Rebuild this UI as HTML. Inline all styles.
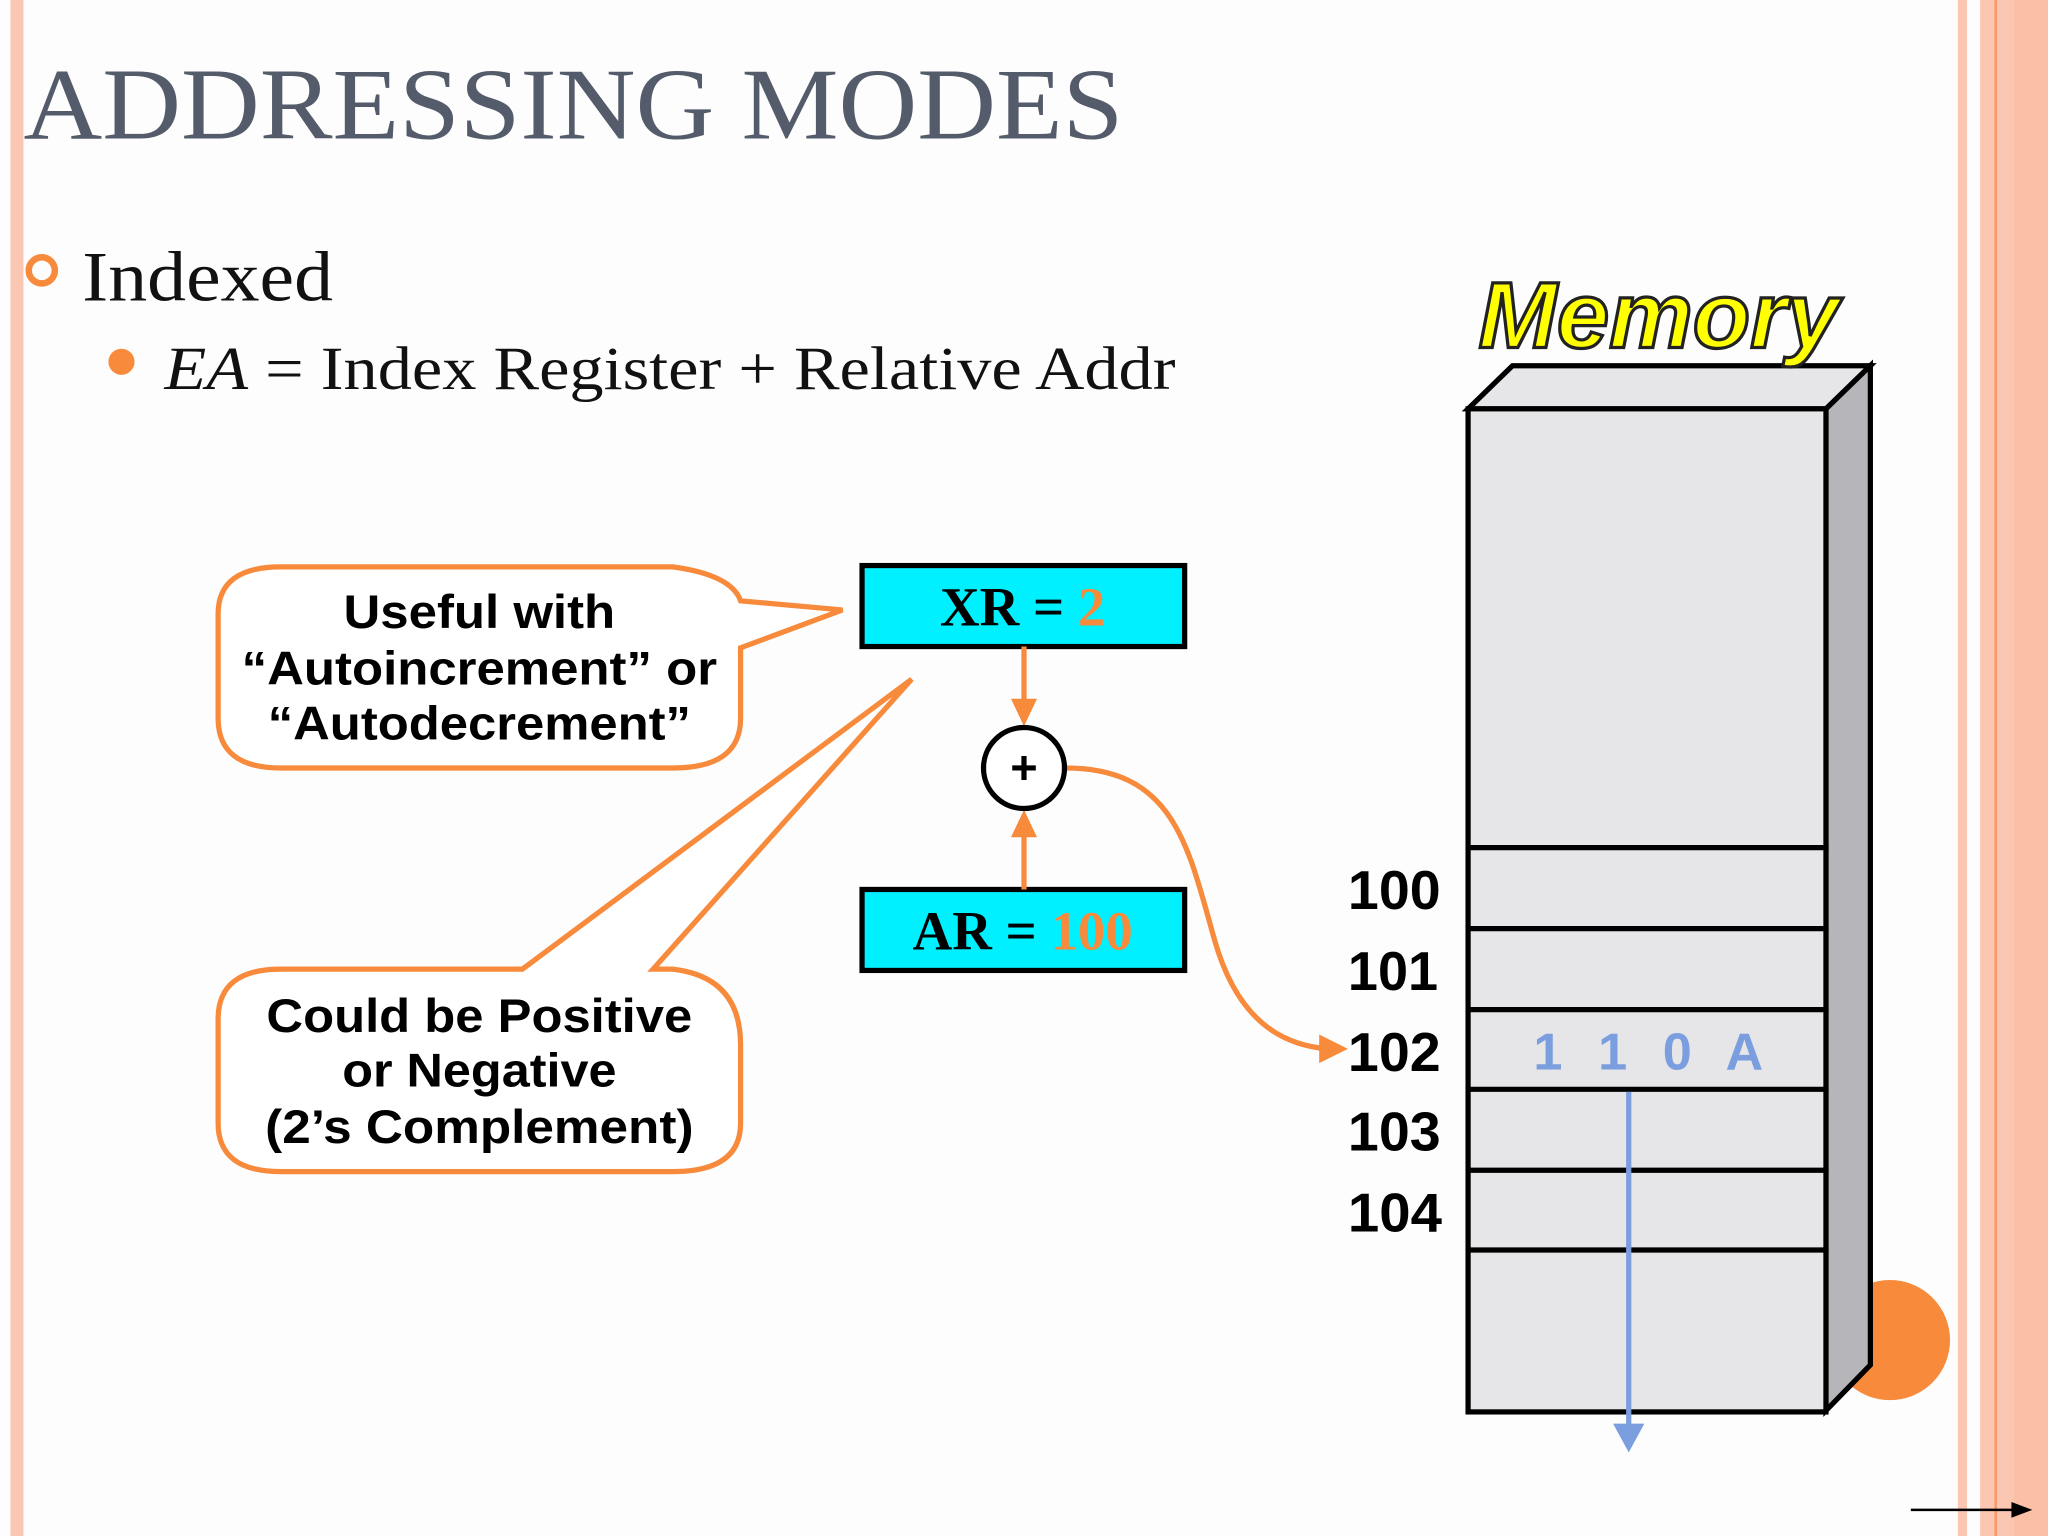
<!DOCTYPE html>
<html><head><meta charset="utf-8"><style>html,body{margin:0;padding:0;background:#fdfdfd}svg{display:block}</style></head>
<body>
<svg width="2048" height="1536" viewBox="0 0 1568 1176" xmlns="http://www.w3.org/2000/svg">
<rect width="1568" height="1176" fill="#fdfdfd"/>
<rect x="8" y="0" width="10" height="1176" fill="#fcc7b2"/>
<rect x="1499" y="0" width="7" height="1176" fill="#fcc7b2"/>
<rect x="1516" y="0" width="52" height="1176" fill="#fcc7b2"/>
<rect x="1527" y="0" width="2" height="1176" fill="#f79a6a"/>
<rect x="1542" y="0" width="26" height="1176" fill="#fbbfa6"/>
<text x="18" y="106" font-family="Liberation Serif, serif" font-size="78" fill="#545b6a" textLength="842" lengthAdjust="spacingAndGlyphs">ADDRESSING MODES</text>
<circle cx="32" cy="207" r="10" fill="none" stroke="#f88a3c" stroke-width="5"/>
<text x="63" y="230" font-family="Liberation Serif, serif" font-size="54" fill="#111" textLength="192" lengthAdjust="spacingAndGlyphs">Indexed</text>
<circle cx="93" cy="277" r="10" fill="#f88a3c"/>
<text x="126" y="298" font-family="Liberation Serif, serif" font-size="47" fill="#111" textLength="774" lengthAdjust="spacingAndGlyphs"><tspan font-style="italic">EA</tspan> = Index Register + Relative Addr</text>
<g fill="none" stroke="#f88a3c" stroke-width="4">
<path d="M215 434 H515 Q560 440 567 460 L645 467 L567 496 V550 Q567 588 515 588 H215 Q167 588 167 550 V470 Q167 434 215 434 Z" fill="#fff"/>
<path d="M215 742 H400 L698 520 L500 742 H515 Q567 748 567 800 V860 Q567 897 515 897 H215 Q167 897 167 860 V780 Q167 742 215 742 Z" fill="#fff"/>
</g>
<g font-family="Liberation Sans, sans-serif" font-weight="bold" font-size="36" text-anchor="middle" fill="#000">
<text x="367" y="481" textLength="208" lengthAdjust="spacingAndGlyphs">Useful with</text>
<text x="367" y="524" textLength="364" lengthAdjust="spacingAndGlyphs">“Autoincrement” or</text>
<text x="367" y="566" textLength="324" lengthAdjust="spacingAndGlyphs">“Autodecrement”</text>
<text x="367" y="790" textLength="326" lengthAdjust="spacingAndGlyphs">Could be Positive</text>
<text x="367" y="832" textLength="210" lengthAdjust="spacingAndGlyphs">or Negative</text>
<text x="367" y="875" textLength="328" lengthAdjust="spacingAndGlyphs">(2’s Complement)</text>
</g>
<rect x="660" y="433" width="247" height="62" fill="#00f0ff" stroke="#000" stroke-width="4"/>
<rect x="660" y="681" width="247" height="62" fill="#00f0ff" stroke="#000" stroke-width="4"/>
<g font-family="Liberation Serif, serif" font-weight="bold" font-size="42" text-anchor="middle">
<text x="783" y="479">XR = <tspan fill="#f88a3c">2</tspan></text>
<text x="783" y="727">AR = <tspan fill="#f88a3c">100</tspan></text>
</g>
<g stroke="#f88a3c" stroke-width="4" fill="none">
<line x1="784" y1="495" x2="784" y2="540"/>
<line x1="784" y1="681" x2="784" y2="638"/>
<path d="M816 588 C900 588 910 650 930 720 C950 790 990 800 1015 803"/>
</g>
<g fill="#f88a3c">
<polygon points="774,535 794,535 784,556"/>
<polygon points="774,641 794,641 784,620"/>
<polygon points="1010,792 1032,803 1010,814"/>
</g>
<circle cx="784" cy="588" r="31" fill="#fff" stroke="#000" stroke-width="4"/>
<text x="784" y="600" font-family="Liberation Sans, sans-serif" font-weight="bold" font-size="36" text-anchor="middle">+</text>
<polygon points="1124,313 1158,280 1432,280 1398,313" fill="#e6e6e8" stroke="#000" stroke-width="4"/>
<circle cx="1447" cy="1026" r="46" fill="#f88a3c"/>
<polygon points="1398,313 1432,280 1432,1045 1398,1080" fill="#b6b6ba" stroke="#000" stroke-width="4"/>
<rect x="1124" y="313" width="274" height="768" fill="#e6e6e8" stroke="#000" stroke-width="4"/>
<g stroke="#000" stroke-width="4">
<line x1="1124" y1="649" x2="1400" y2="649"/>
<line x1="1124" y1="711" x2="1400" y2="711"/>
<line x1="1124" y1="773" x2="1400" y2="773"/>
<line x1="1124" y1="834" x2="1400" y2="834"/>
<line x1="1124" y1="896" x2="1400" y2="896"/>
<line x1="1124" y1="957" x2="1400" y2="957"/>
</g>
<text x="1132" y="266" font-family="Liberation Sans, sans-serif" font-weight="bold" font-style="italic" font-size="72" fill="#ffff00" stroke="#222" stroke-width="2.5" textLength="276" lengthAdjust="spacingAndGlyphs">Memory</text>
<g font-family="Liberation Sans, sans-serif" font-weight="bold" font-size="42" fill="#000">
<text x="1032" y="696" textLength="71" lengthAdjust="spacingAndGlyphs">100</text>
<text x="1032" y="758" textLength="69" lengthAdjust="spacingAndGlyphs">101</text>
<text x="1032" y="820" textLength="71" lengthAdjust="spacingAndGlyphs">102</text>
<text x="1032" y="881" textLength="71" lengthAdjust="spacingAndGlyphs">103</text>
<text x="1032" y="943" textLength="72" lengthAdjust="spacingAndGlyphs">104</text>
</g>
<text x="1174" y="819" font-family="Liberation Sans, sans-serif" font-weight="bold" font-size="40" fill="#7a9ede" xml:space="preserve" textLength="176" lengthAdjust="spacing">1  1  0  A</text>
<line x1="1247" y1="836" x2="1247" y2="1092" stroke="#7a9ede" stroke-width="4"/>
<polygon points="1235,1090 1259,1090 1247,1112" fill="#7a9ede"/>
<line x1="1463" y1="1156" x2="1545" y2="1156" stroke="#000" stroke-width="2"/>
<polygon points="1540,1150 1556,1156 1540,1162" fill="#000"/>
</svg>
</body></html>
